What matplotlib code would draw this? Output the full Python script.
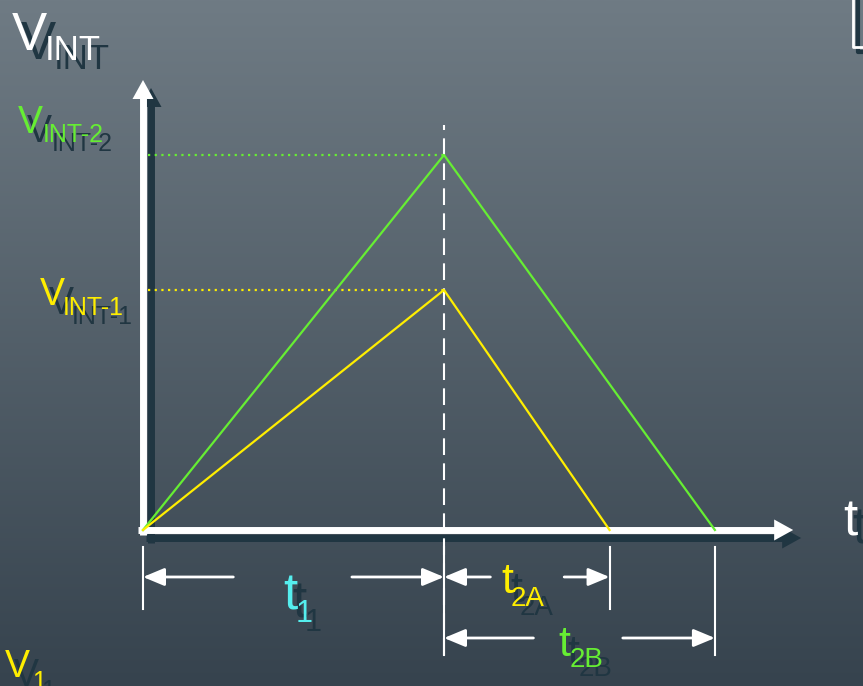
import numpy as np
import matplotlib
matplotlib.use('Agg')
import matplotlib.pyplot as plt
from matplotlib import transforms

W, H = 863, 686
plt.rcParams['font.family'] = ['Liberation Sans', 'DejaVu Sans']

# integration time / voltage values (t1 = 1, V_INT-2 = 1)
t1 = 1.0
t2a = 0.55
t2b = 0.90
v_int1 = 0.64
v_int2 = 1.0

green_t = [0, t1, t1 + t2b]
green_v = [0, v_int2, 0]
yellow_t = [0, t1, t1 + t2a]
yellow_v = [0, v_int1, 0]

GREEN = '#66ee33'
YELLOW = '#ffee00'
CYAN = '#55eeee'
DARK = '#203642'

fig = plt.figure(figsize=(W / 100, H / 100), dpi=100)
ax = fig.add_axes([0, 0, 1, 1])
# origin of the diagram sits at pixel (143, 530): 301 px per t unit, 375 px per V unit
xlim = (-143 / 301, (W - 143) / 301)
ylim = (-(H - 530) / 375, 530 / 375)
ax.set_xlim(*xlim)
ax.set_ylim(*ylim)
ax.axis('off')

# background gradient
g = np.linspace(0, 1, 256)[:, None, None]
top = np.array([111, 123, 132]) / 255
bot = np.array([54, 67, 78]) / 255
img = top + (bot - top) * g
ax.imshow(img, extent=[xlim[0], xlim[1], ylim[0], ylim[1]], aspect='auto',
          origin='upper', zorder=0)

sh = transforms.offset_copy(ax.transData, fig=fig, x=8, y=-8, units='dots')
pix = transforms.Affine2D().scale(1, -1).translate(0, H)
pix_sh = transforms.Affine2D().scale(1, -1).translate(9, H - 9)


def head(tip, base, tr, color, hl, hw, z):
    ax.annotate('', xy=tip, xytext=base, xycoords=tr, textcoords=tr,
                arrowprops=dict(arrowstyle=f'-|>,head_length={hl},head_width={hw}',
                                mutation_scale=7.2, lw=0, color=color,
                                shrinkA=0, shrinkB=0), zorder=z)


# axes (with shadow)
v_top = 1.2
t_end = 2.16
for tr, c, z in [(sh, DARK, 1), (ax.transData, 'white', 2)]:
    ax.plot([0, 0], [-0.013, v_top - 0.03], color=c, lw=5, transform=tr,
            solid_capstyle='butt', zorder=z)
    ax.plot([-0.017, t_end - 0.04], [0, 0], color=c, lw=5, transform=tr,
            solid_capstyle='butt', zorder=z)
    head((0, v_top), (0, 0.5), tr, c, 1.9, 1.05, z)
    head((t_end, 0), (1.0, 0), tr, c, 1.9, 1.05, z)

# guide lines
ax.plot([t1, t1], [-0.333, 1.08], color='white', lw=1.5, ls=(0, (8, 4)), zorder=2)
ax.plot([0.015, t1], [v_int2, v_int2], color=GREEN, lw=1.6, ls=(0, (1, 2)), zorder=3)
ax.plot([0.015, t1], [v_int1, v_int1], color=YELLOW, lw=1.6, ls=(0, (1, 2)), zorder=3)

# integrator output ramps
ax.plot(green_t, green_v, color=GREEN, lw=1.6, zorder=4)
ax.plot(yellow_t, yellow_v, color=YELLOW, lw=1.6, zorder=4)

# dimension markers
ax.plot([0, 0], [-0.045, -0.211], color='white', lw=1.5, zorder=3)
ax.plot([t1, t1], [-0.045, -0.333], color='white', lw=1.5, zorder=3)
ax.plot([t1 + t2a] * 2, [-0.045, -0.211], color='white', lw=1.5, zorder=3)
ax.plot([t1 + t2b] * 2, [-0.045, -0.333], color='white', lw=1.5, zorder=3)


def dim(t0, t_b, v, f1, f2):
    span = t_b - t0
    for tip, base in [(t0, t0 + f1 * span), (t_b, t0 + f2 * span)]:
        ax.annotate('', xy=(tip, v), xytext=(base, v),
                    arrowprops=dict(arrowstyle='-|>,head_length=1.8,head_width=0.75',
                                    mutation_scale=7.2, lw=2, color='white',
                                    shrinkA=0, shrinkB=0), zorder=3)


dim(0, t1, -0.1253, 0.30, 0.694)
dim(t1, t1 + t2a, -0.1253, 0.28, 0.726)
dim(t1, t1 + t2b, -0.288, 0.33, 0.66)


def label(x, y, s, size, color, shadow=True):
    if shadow:
        ax.text(x, y, s, transform=pix_sh, fontsize=size, color=DARK,
                ha='left', va='baseline', zorder=5)
    ax.text(x, y, s, transform=pix, fontsize=size, color=color,
            ha='left', va='baseline', zorder=6)


label(12, 50, 'V', 38, 'white')
label(45, 60, 'INT', 25, 'white')
label(18, 133, 'V', 27, GREEN)
label(43, 142, 'INT-2', 18, GREEN)
label(40, 305, 'V', 27, YELLOW)
label(63, 315, 'INT-1', 18, YELLOW)
label(5, 677, 'V', 27, YELLOW)
label(32, 689, '1', 18, YELLOW)
label(843, 535, 't', 37, 'white')
label(283, 609, 't', 37, CYAN)
label(296, 622, '1', 22, CYAN)
label(501, 593, 't', 31, YELLOW)
label(511, 606, '2A', 20, YELLOW)
label(558, 656, 't', 31, GREEN)
label(570, 667, '2B', 20, GREEN)

# cut-off box in the top right corner
ax.plot([858, 858, 863], [0, 52, 52], color=DARK, lw=3, transform=pix, zorder=5)
ax.plot([853, 853, 863], [0, 47, 47], color='white', lw=2, transform=pix, zorder=5)

fig.savefig('out.png', dpi=100)
